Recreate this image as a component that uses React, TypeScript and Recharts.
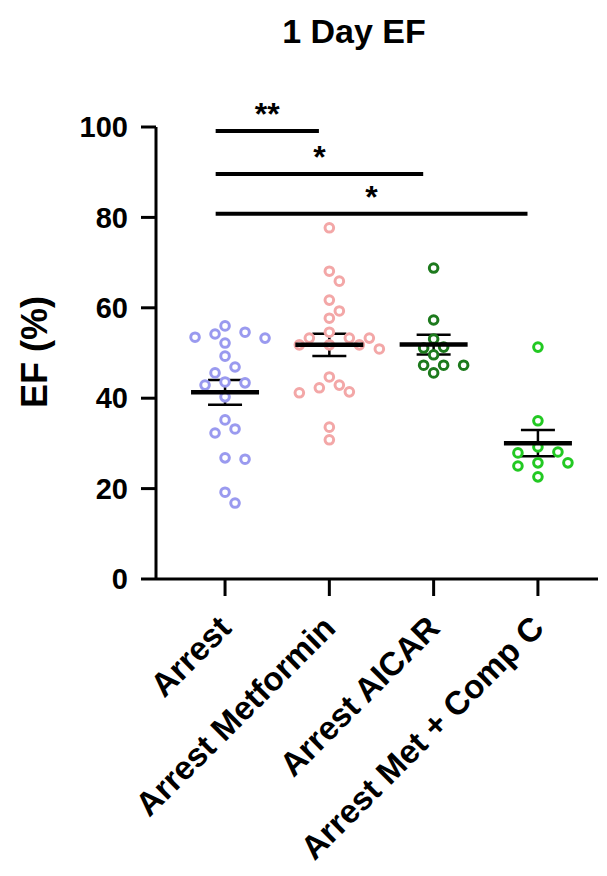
import React from "react";
import { ComposedChart, Scatter, XAxis, YAxis, ErrorBar, ReferenceLine } from "recharts";

const groups = ["Arrest", "Arrest Metformin", "Arrest AICAR", "Arrest Met + Comp C"];
const colors = ["#9a9aef", "#f3a7a7", "#1d7a1d", "#22c922"];

// EF (%) per animal
const arrest = [56, 54.6, 54.2, 53.5, 53.3, 52.2, 49.3, 46.9, 45.6, 43.6, 43.4, 42.9, 40.3, 35.2, 33.2, 32.3, 26.8, 26.5, 19.2, 16.8];
const metformin = [77.7, 68.1, 65.9, 61.7, 59.3, 57.7, 54.6, 53.3, 53.3, 53.3, 51.8, 51.8, 51.8, 50.9, 44.7, 42.9, 42.3, 41.4, 41.2, 33.6, 30.8];
const aicar = [68.8, 57.3, 53.1, 51.3, 51.1, 49.6, 47.3, 47.3, 47.3, 45.6];
const metComp = [51.3, 35, 29.2, 28.1, 27.9, 25.7, 25.7, 25, 22.6];

const yTicks = [0, 20, 40, 60, 80, 100];
const xTicks = [1, 2, 3, 4];

// significance brackets: group a vs group b
const comparisons = [
  { a: 1, b: 2, y: 99.1, label: "**" },
  { a: 1, b: 3, y: 89.6, label: "*" },
  { a: 1, b: 4, y: 80.8, label: "*" },
];

const W = 607;
const H = 876;
const M = { top: 127, right: 9, bottom: 0, left: 0 };
const Y_AXIS_W = 156;
const X_AXIS_H = 297;
const X_DOMAIN: [number, number] = [0.338, 4.576];
const FONT = "'Liberation Sans', Arial, Helvetica, sans-serif";

const plotW = W - M.left - M.right - Y_AXIS_W;
const plotH = H - M.top - M.bottom - X_AXIS_H;
const pxPerX = plotW / (X_DOMAIN[1] - X_DOMAIN[0]);
const pxPerY = plotH / 100;

// simple beeswarm: push dots sideways until they stop overlapping
function swarm(values: number[], center: number) {
  const placed: { dx: number; py: number }[] = [];
  const cands = [0, 10, -10, 20, -20, 30, -30, 40, -40, 50, -50];
  return values.map((v) => {
    const py = v * pxPerY;
    let dx = 0;
    for (const c of cands) {
      if (placed.every((p) => Math.hypot(p.dx - c, p.py - py) >= 12)) {
        dx = c;
        break;
      }
    }
    placed.push({ dx, py });
    return { x: center + dx / pxPerX, y: v };
  });
}

function stats(values: number[]) {
  const n = values.length;
  const mean = values.reduce((s, v) => s + v, 0) / n;
  const sd = Math.sqrt(values.reduce((s, v) => s + (v - mean) ** 2, 0) / (n - 1));
  return { mean, sem: sd / Math.sqrt(n) };
}

const series = [arrest, metformin, aicar, metComp];
const summary = series.map((vals, i) => {
  const s = stats(vals);
  return { x: i + 1, y: s.mean, sem: s.sem };
});

const Ring = (color: string) => (props: any) => {
  const { cx, cy } = props;
  return <circle cx={cx} cy={cy} r={4.3} fill="#fff" stroke={color} strokeWidth={3} />;
};

const MeanBar = (props: any) => {
  const { cx, cy } = props;
  return <line x1={cx - 34} x2={cx + 34} y1={cy} y2={cy} stroke="#000" strokeWidth={4.5} />;
};

const XTick = (props: any) => {
  const { x, y, payload } = props;
  const ax = x + 8;
  const ay = y + 34;
  return (
    <text
      x={ax}
      y={ay}
      transform={`rotate(-45, ${ax}, ${ay})`}
      textAnchor="end"
      fontFamily={FONT}
      fontWeight={700}
      fontSize={33}
      fill="#000"
    >
      {groups[payload.value - 1]}
    </text>
  );
};

export default function App() {
  return (
    <div style={{ position: "absolute", left: 0, top: 0, width: W, height: H, background: "#fff" }}>
      <ComposedChart width={W} height={H} margin={M}>
        <XAxis
          type="number"
          dataKey="x"
          domain={X_DOMAIN}
          ticks={xTicks}
          allowDataOverflow
          height={X_AXIS_H}
          interval={0}
          tickSize={17}
          tickMargin={0}
          axisLine={{ stroke: "#000", strokeWidth: 3 }}
          tickLine={{ stroke: "#000", strokeWidth: 3 }}
          tick={<XTick />}
        />
        <YAxis
          type="number"
          dataKey="y"
          domain={[0, 100]}
          ticks={yTicks}
          width={Y_AXIS_W}
          tickSize={15}
          tickMargin={13}
          axisLine={{ stroke: "#000", strokeWidth: 3 }}
          tickLine={{ stroke: "#000", strokeWidth: 3 }}
          tick={{ fontSize: 29, fontWeight: 700, fill: "#000", fontFamily: FONT }}
        />
        {series.map((vals, i) => (
          <Scatter
            key={groups[i]}
            name={groups[i]}
            data={swarm(vals, i + 1)}
            shape={Ring(colors[i])}
            isAnimationActive={false}
          />
        ))}
        <Scatter data={summary} shape={MeanBar} isAnimationActive={false}>
          <ErrorBar dataKey="sem" direction="y" width={17} stroke="#000" strokeWidth={2.5} />
        </Scatter>
        {comparisons.map((c, i) => (
          <ReferenceLine
            key={i}
            segment={[
              { x: c.a - 0.09, y: c.y },
              { x: c.b - 0.1, y: c.y },
            ]}
            stroke="#000"
            strokeWidth={4}
            ifOverflow="visible"
            label={{
              value: c.label,
              position: "top",
              offset: 6,
              fontSize: 32,
              fontWeight: 700,
              fill: "#000",
              fontFamily: FONT,
            }}
          />
        ))}
      </ComposedChart>
      <svg width={W} height={H} style={{ position: "absolute", left: 0, top: 0, pointerEvents: "none" }}>
        <text x={354} y={43} textAnchor="middle" fontFamily={FONT} fontWeight={700} fontSize={34} fill="#000">
          1 Day EF
        </text>
        <text
          x={-352}
          y={47}
          transform="rotate(-90)"
          textAnchor="middle"
          fontFamily={FONT}
          fontWeight={700}
          fontSize={36}
          fill="#000"
        >
          EF (%)
        </text>
      </svg>
    </div>
  );
}
